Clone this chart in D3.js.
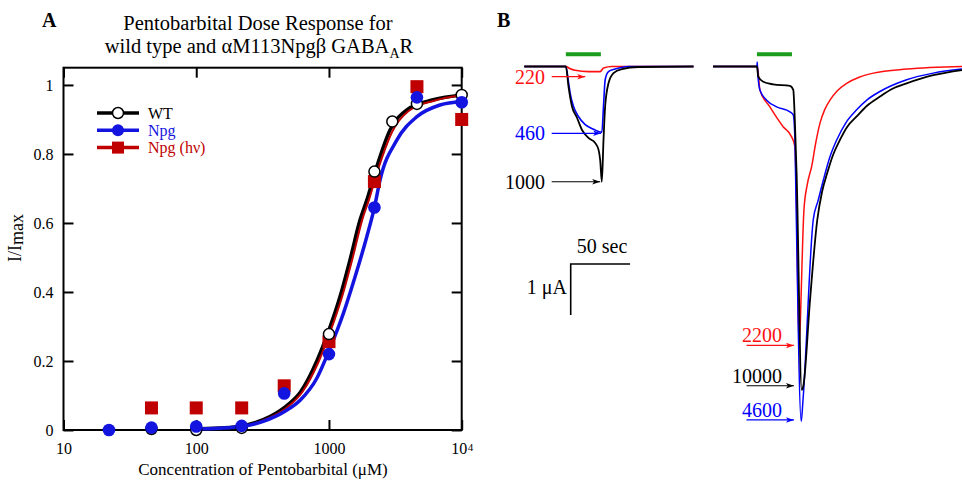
<!DOCTYPE html>
<html>
<head>
<meta charset="utf-8">
<script src="https://cdn.jsdelivr.net/npm/d3@7"></script>
<style>
body { margin: 0; background: #fff; }
text { font-family: "Liberation Serif", "Times New Roman", serif; }
</style>
</head>
<body>
<div id="chart"></div>
<script>
// ---- Panel A data: dose response (concentration in uM, I/Imax) ----
var xTickValues = [10, 100, 1000, 10000];
var yTickValues = [0, 0.2, 0.4, 0.6, 0.8, 1];

var wtConc = [46, 100, 220, 1000, 2200, 3000, 4600, 10000];
var wtResp = [0.003, 0.0, 0.006, 0.278, 0.749, 0.894, 0.945, 0.971];
var npgConc = [22, 46, 100, 220, 460, 1000, 2200, 4600, 10000];
var npgResp = [0.0, 0.007, 0.01, 0.012, 0.106, 0.22, 0.645, 0.964, 0.95];
var hvConc = [46, 100, 220, 460, 1000, 2200, 4600, 10000];
var hvResp = [0.064, 0.064, 0.064, 0.128, 0.256, 0.72, 0.995, 0.9];

// fitted curves
var wtFitConc = [90, 150, 220, 320, 460, 610, 810, 1000, 1210, 1440, 1715, 1930, 2290, 2890, 3860, 6120, 10000];
var wtFitResp = [0.003, 0.006, 0.012, 0.03, 0.065, 0.11, 0.2, 0.29, 0.386, 0.493, 0.609, 0.667, 0.763, 0.87, 0.928, 0.957, 0.971];
var npgFitConc = [95, 150, 220, 320, 460, 609, 810, 1018, 1284, 1573, 1927, 2200, 2427, 3243, 4600, 6870, 10000];
var npgFitResp = [0.003, 0.005, 0.01, 0.025, 0.053, 0.087, 0.15, 0.237, 0.338, 0.444, 0.56, 0.645, 0.725, 0.84, 0.908, 0.942, 0.952];
var hvFitConc = [95, 155, 230, 330, 475, 630, 840, 1035, 1255, 1495, 1780, 2000, 2380, 3000, 4000, 6300, 10000];
var hvFitResp = [0.003, 0.006, 0.012, 0.03, 0.063, 0.11, 0.2, 0.29, 0.386, 0.493, 0.609, 0.667, 0.763, 0.865, 0.925, 0.955, 0.97];

// ---- Panel B data: current traces [time s from application, current uA] ----
var left220 = [[-35,0],[0,0],[3.6,-0.045],[7.8,-0.075],[19,-0.1],[28.9,-0.1],[31.7,-0.03],[38.8,0],[107.5,0]];
var left460 = [[-35,0],[0,0],[2.2,-0.3],[3.6,-0.52],[6.4,-0.78],[10.6,-0.98],[16.3,-1.14],[23.3,-1.23],[30.3,-1.29],
               [31.7,-0.78],[33.1,-0.26],[35.9,-0.1],[41.5,-0.05],[52.7,0],[107.5,0]];
var left1000 = [[-35,0],[0,0],[2.2,-0.39],[5.1,-0.78],[9.3,-1.0],[13.5,-1.24],[19,-1.4],[24.7,-1.5],[27.5,-1.63],
                [28.9,-1.83],[30.3,-2.26],[31.7,-1.44],[33.1,-0.78],[35.9,-0.33],[40.1,-0.13],[47.2,-0.05],[61.2,-0.01],[107.5,0]];
var right2200 = [[-37,0],[0,0],[0.4,0],[2.5,-0.46],[10.9,-0.79],[22.1,-1.18],[29.2,-1.38],[32,-1.57],[33.3,-2.62],
                 [35.4,-5.46],[36.6,-4.97],[37.1,-4.58],[39.6,-2.81],[42.5,-2.3],[46.1,-1.96],[49.5,-1.5],[53.1,-1.11],
                 [57,-0.85],[61.5,-0.66],[67.5,-0.48],[75.6,-0.33],[86,-0.21],[98,-0.13],[126.1,-0.05],[172.7,0]];
var right4600 = [[-37,0],[0,0],[0.25,0.09],[0.8,-0.17],[2.5,-0.46],[8.2,-0.66],[16.6,-0.79],[27.8,-0.89],[30.6,-0.95],
                 [32,-1.44],[32.9,-2.62],[37.3,-6.96],[38.8,-6.54],[47.4,-3.01],[51.5,-2.63],[55.9,-2.23],
                 [61.5,-1.77],[67.2,-1.44],[75,-1.1],[84,-0.85],[93,-0.65],[103.6,-0.49],[126.1,-0.26],[148.5,-0.13],[172.7,-0.05]];
var right10000 = [[-37,0],[0,0],[1.1,-0.2],[5.3,-0.3],[13.7,-0.35],[27.8,-0.38],[30.6,-0.46],[32,-1.11],[33.4,-2.09],
                  [37.7,-6.34],[39.1,-6.26],[44.7,-4.58],[50.8,-3.01],[54.8,-2.46],[59.2,-2.09],[64,-1.74],[69.9,-1.44],
                  [75.8,-1.19],[84,-0.98],[92.7,-0.77],[103.6,-0.59],[113.7,-0.44],[126.1,-0.33],[148.5,-0.17],[172.7,-0.07]];
var applyDuration = 29.5; // seconds, green bar

var leftLabels = ["220", "460", "1000"];
var leftLabelTip = [[16.3,-0.2],[29.7,-1.31],[28.9,-2.26]];
var rightLabels = ["2200", "10000", "4600"];
var rightLabelTip = [[32,-5.47],[32,-6.26],[32,-6.93]];

var black = "#000", blueA = "#1414e0", redA = "#c00000", blueB = "#0000ff", redB = "#ff1010", green = "#1c9c1c";

var svg = d3.select("#chart").append("svg")
    .attr("width", 962)
    .attr("height", 481);

// ================= Panel A =================
var plotA = {left: 63.5, right: 461.7, top: 67.7, bottom: 430};

var xA = d3.scaleLog().domain([10, 10000]).range([plotA.left, plotA.right]);
var yA = d3.scaleLinear().domain([0, 1.05]).range([plotA.bottom, plotA.top]);

var gA = svg.append("g");

gA.append("text").attr("x", 42).attr("y", 27)
  .attr("font-size", "20px").attr("font-weight", "bold").text("A");

gA.append("text").attr("x", 258).attr("y", 30).attr("text-anchor", "middle")
  .attr("font-size", "20.5px").text("Pentobarbital Dose Response for");
var t2 = gA.append("text").attr("x", 259).attr("y", 53).attr("text-anchor", "middle")
  .attr("font-size", "20.5px");
t2.append("tspan").text("wild type and \u03b1M113Npg\u03b2 GABA");
t2.append("tspan").attr("font-size", "14px").attr("dy", 5).text("A");
t2.append("tspan").attr("dy", -5).text("R");

// axes with inward ticks
var leftAxis = gA.append("g")
  .attr("transform", "translate(" + plotA.left + ",0)")
  .call(d3.axisLeft(yA).tickValues(yTickValues).tickSize(-10).tickSizeOuter(0).tickPadding(10)
        .tickFormat(function(d) { return String(d); }));
var rightAxis = gA.append("g")
  .attr("transform", "translate(" + plotA.right + ",0)")
  .call(d3.axisRight(yA).tickValues(yTickValues).tickSize(-10).tickSizeOuter(0).tickFormat(""));
var bottomAxis = gA.append("g")
  .attr("transform", "translate(0," + plotA.bottom + ")")
  .call(d3.axisBottom(xA).tickValues(xTickValues).tickSize(-10).tickSizeOuter(0).tickPadding(13)
        .tickFormat(function(d) { return d === 10000 ? "10" : String(d); }));
var topAxis = gA.append("g")
  .attr("transform", "translate(0," + plotA.top + ")")
  .call(d3.axisTop(xA).tickValues(xTickValues).tickSize(-10).tickSizeOuter(0).tickFormat(""));

[leftAxis, rightAxis, bottomAxis, topAxis].forEach(function(ax) {
  ax.attr("font-family", null).attr("font-size", "16px");
  ax.select(".domain").remove();
  ax.selectAll("line").attr("stroke", black).attr("stroke-width", 2);
  ax.selectAll("text").attr("fill", black);
});
// superscript on 10^4
bottomAxis.selectAll(".tick").filter(function(d) { return d === 10000; }).select("text")
  .append("tspan").attr("font-size", "11px").attr("dy", "-0.3em").attr("dx", "0.5px").text("4");

gA.append("rect")
  .attr("x", plotA.left).attr("y", plotA.top)
  .attr("width", plotA.right - plotA.left).attr("height", plotA.bottom - plotA.top)
  .attr("fill", "none").attr("stroke", black).attr("stroke-width", 2);

// axis labels
gA.append("text").attr("x", 263).attr("y", 475).attr("text-anchor", "middle")
  .attr("font-size", "17px").text("Concentration of Pentobarbital (\u03bcM)");
var yl = gA.append("text").attr("transform", "translate(21,238) rotate(-90)")
  .attr("text-anchor", "middle").attr("font-size", "18px");
yl.append("tspan").text("I/I");
yl.append("tspan").attr("dy", 2).text("max");

// fitted curves
var fitLine = d3.line()
  .x(function(d) { return xA(d[0]); })
  .y(function(d) { return yA(d[1]); })
  .curve(d3.curveMonotoneX);

function zip(a, b) { return a.map(function(v, i) { return [v, b[i]]; }); }

gA.append("path").datum(zip(wtFitConc, wtFitResp)).attr("d", fitLine)
  .attr("fill", "none").attr("stroke", black).attr("stroke-width", 3.5);
gA.append("path").datum(zip(hvFitConc, hvFitResp)).attr("d", fitLine)
  .attr("fill", "none").attr("stroke", redA).attr("stroke-width", 2);
gA.append("path").datum(zip(npgFitConc, npgFitResp)).attr("d", fitLine)
  .attr("fill", "none").attr("stroke", blueA).attr("stroke-width", 3.5);

// markers
gA.selectAll(".hv").data(zip(hvConc, hvResp)).enter().append("rect")
  .attr("class", "hv")
  .attr("x", function(d) { return xA(d[0]) - 6.5; })
  .attr("y", function(d) { return yA(d[1]) - 6.5; })
  .attr("width", 13).attr("height", 13)
  .attr("fill", redA);
gA.selectAll(".wt").data(zip(wtConc, wtResp)).enter().append("circle")
  .attr("class", "wt")
  .attr("cx", function(d) { return xA(d[0]); })
  .attr("cy", function(d) { return yA(d[1]); })
  .attr("r", 5.5).attr("fill", "#fff").attr("stroke", black).attr("stroke-width", 1.5);
gA.selectAll(".npg").data(zip(npgConc, npgResp)).enter().append("circle")
  .attr("class", "npg")
  .attr("cx", function(d) { return xA(d[0]); })
  .attr("cy", function(d) { return yA(d[1]); })
  .attr("r", 6.3).attr("fill", blueA);

// legend
var legend = gA.append("g").attr("transform", "translate(97,113)");
var legendRows = [
  {name: "WT", color: black, shape: "open"},
  {name: "Npg", color: blueA, shape: "dot"},
  {name: "Npg (h\u03bd)", color: redA, shape: "square"}
];
legendRows.forEach(function(r, i) {
  var row = legend.append("g").attr("transform", "translate(0," + (i * 17.3) + ")");
  row.append("line").attr("x1", 0).attr("x2", 42).attr("y1", 0).attr("y2", 0)
    .attr("stroke", r.color).attr("stroke-width", 3.5);
  if (r.shape === "open") {
    row.append("circle").attr("cx", 21).attr("r", 5.5).attr("fill", "#fff")
      .attr("stroke", r.color).attr("stroke-width", 1.5);
  } else if (r.shape === "dot") {
    row.append("circle").attr("cx", 21).attr("r", 6).attr("fill", r.color);
  } else {
    row.append("rect").attr("x", 15).attr("y", -6).attr("width", 12).attr("height", 12).attr("fill", r.color);
  }
  row.append("text").attr("x", 51).attr("y", 5.5).attr("font-size", "16px")
    .attr("fill", r.color).text(r.name);
});

// ================= Panel B =================
var gB = svg.append("g");
gB.append("text").attr("x", 497).attr("y", 27)
  .attr("font-size", "20px").attr("font-weight", "bold").text("B");

var xLeft = d3.scaleLinear().domain([-35, 107.5]).range([524.3, 693.5]);
var xRight = d3.scaleLinear().domain([-37, 172.7]).range([713, 962]);
var yB = d3.scaleLinear().domain([0, -1]).range([66.5, 117.5]);

var defs = svg.append("defs");
[["arrK", black], ["arrB", blueB], ["arrR", redB]].forEach(function(m) {
  defs.append("marker").attr("id", m[0])
    .attr("viewBox", "0 -5 10 10").attr("refX", 10).attr("refY", 0)
    .attr("markerUnits", "userSpaceOnUse").attr("markerWidth", 10).attr("markerHeight", 8)
    .attr("orient", "auto")
    .append("path").attr("d", "M0,-3.5L10,0L0,3.5L2.5,0Z").attr("fill", m[1]);
});

function traceLine(xs) {
  return d3.line()
    .x(function(d) { return xs(d[0]); })
    .y(function(d) { return yB(d[1]); })
    .curve(d3.curveMonotoneX);
}

// green application bars
[xLeft, xRight].forEach(function(xs) {
  gB.append("line")
    .attr("x1", xs(0)).attr("x2", xs(applyDuration))
    .attr("y1", yB(0.24)).attr("y2", yB(0.24))
    .attr("stroke", green).attr("stroke-width", 4);
});

// left sweep
gB.append("path").datum(left220).attr("d", traceLine(xLeft))
  .attr("fill", "none").attr("stroke", redB).attr("stroke-width", 1.6);
gB.append("path").datum(left460).attr("d", traceLine(xLeft))
  .attr("fill", "none").attr("stroke", blueB).attr("stroke-width", 1.6);
gB.append("path").datum(left1000).attr("d", traceLine(xLeft))
  .attr("fill", "none").attr("stroke", black).attr("stroke-width", 1.8);

// right sweep
gB.append("path").datum(right2200).attr("d", traceLine(xRight))
  .attr("fill", "none").attr("stroke", redB).attr("stroke-width", 1.5);
gB.append("path").datum(right4600).attr("d", traceLine(xRight))
  .attr("fill", "none").attr("stroke", blueB).attr("stroke-width", 1.5);
gB.append("path").datum(right10000).attr("d", traceLine(xRight))
  .attr("fill", "none").attr("stroke", black).attr("stroke-width", 1.8);

// concentration labels with arrows
var leftColors = [redB, blueB, black], leftMarks = ["arrR", "arrB", "arrK"];
leftLabels.forEach(function(lab, i) {
  var tipX = xLeft(leftLabelTip[i][0]), tipY = yB(leftLabelTip[i][1]);
  gB.append("line").attr("x1", 551.7).attr("x2", tipX).attr("y1", tipY).attr("y2", tipY)
    .attr("stroke", leftColors[i]).attr("stroke-width", 1.2).attr("marker-end", "url(#" + leftMarks[i] + ")");
  gB.append("text").attr("x", 545).attr("y", tipY + 7).attr("text-anchor", "end")
    .attr("font-size", "20px").attr("fill", leftColors[i]).text(lab);
});
var rightColors = [redB, black, blueB], rightMarks = ["arrR", "arrK", "arrB"];
rightLabels.forEach(function(lab, i) {
  var tipX = xRight(rightLabelTip[i][0]), tipY = yB(rightLabelTip[i][1]);
  gB.append("line").attr("x1", 746.5).attr("x2", tipX - 1).attr("y1", tipY).attr("y2", tipY)
    .attr("stroke", rightColors[i]).attr("stroke-width", 1.2).attr("marker-end", "url(#" + rightMarks[i] + ")");
  gB.append("text").attr("x", 782).attr("y", tipY - 3).attr("text-anchor", "end")
    .attr("font-size", "20px").attr("fill", rightColors[i]).text(lab);
});

// scale bar: 50 sec, 1 uA
var sbX = 570.7, sbY = 264;
var sbW = xLeft(50) - xLeft(0), sbH = yB(-1) - yB(0);
gB.append("path")
  .attr("d", "M" + (sbX + sbW) + "," + sbY + "H" + sbX + "V" + (sbY + sbH))
  .attr("fill", "none").attr("stroke", black).attr("stroke-width", 1.6);
gB.append("text").attr("x", 602).attr("y", 253).attr("text-anchor", "middle")
  .attr("font-size", "20px").text("50 sec");
gB.append("text").attr("x", 567).attr("y", 294).attr("text-anchor", "end")
  .attr("font-size", "20px").text("1 \u03bcA");
</script>
</body>
</html>
